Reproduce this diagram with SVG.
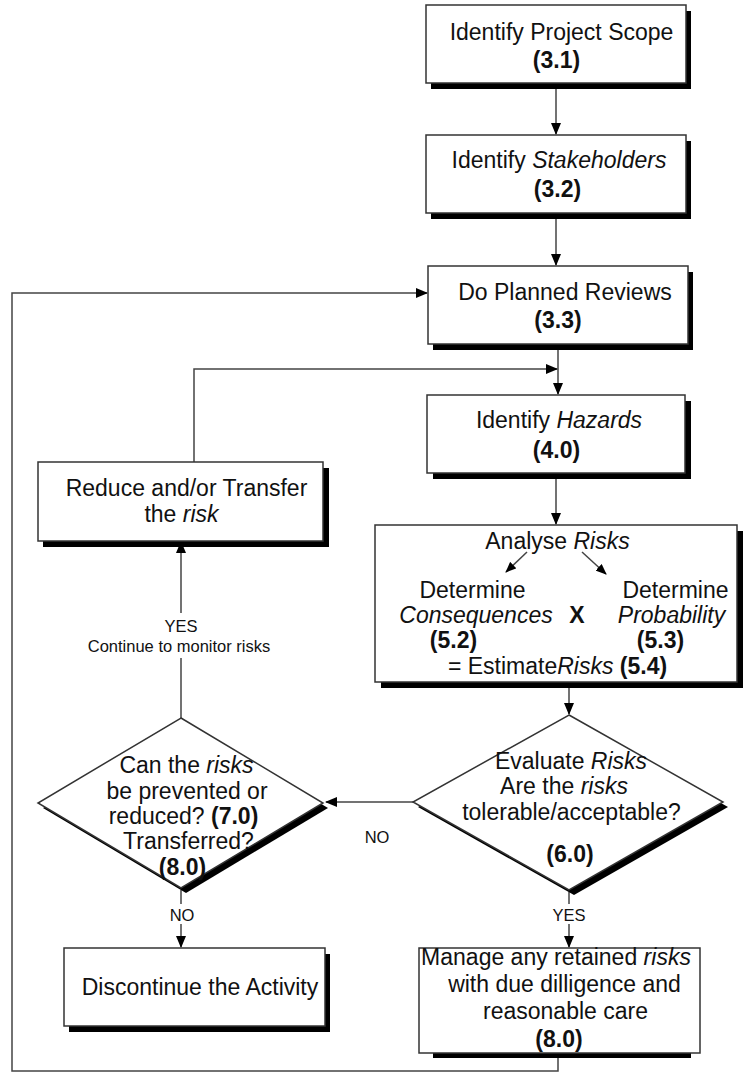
<svg xmlns="http://www.w3.org/2000/svg" width="743" height="1078" viewBox="0 0 743 1078">
  <style>
    .box { fill: #fff; stroke: #333; stroke-width: 1.5; }
    .shadow { fill: #000; }
    .line { fill: none; stroke: #444; stroke-width: 1.5; }
    .t { font-family: "Liberation Sans", Arial, sans-serif; font-size: 23px; fill: #111; }
    .s { font-family: "Liberation Sans", Arial, sans-serif; font-size: 16.5px; fill: #111; }
    .b { font-weight: bold; }
    .i { font-style: italic; }
  </style>
  <defs>
    <marker id="arrow" markerWidth="12" markerHeight="10" refX="11" refY="5" orient="auto" markerUnits="userSpaceOnUse">
      <path d="M0,0 L12,5 L0,10 Z" fill="#000"/>
    </marker>
    <marker id="arrowSmall" markerWidth="11" markerHeight="9" refX="10" refY="4.5" orient="auto" markerUnits="userSpaceOnUse">
      <path d="M0,0 L11,4.5 L0,9 Z" fill="#000"/>
    </marker>
  </defs>

  <!-- connectors -->
  <g id="connectors">
    <line class="line" x1="556" y1="83" x2="556" y2="134" marker-end="url(#arrow)"/>
    <line class="line" x1="556" y1="213" x2="556" y2="265" marker-end="url(#arrow)"/>
    <line class="line" x1="558" y1="344" x2="558" y2="394" marker-end="url(#arrow)"/>
    <polyline class="line" points="194,462 194,369 557,369" marker-end="url(#arrow)"/>
    <line class="line" x1="556" y1="473" x2="556" y2="524" marker-end="url(#arrow)"/>
    <line class="line" x1="569" y1="682" x2="569" y2="714" marker-end="url(#arrow)"/>
    <line class="line" x1="413" y1="802" x2="326" y2="802" marker-end="url(#arrow)"/>
    <line class="line" x1="569" y1="892" x2="569" y2="904"/>
    <line class="line" x1="569" y1="924" x2="569" y2="947" marker-end="url(#arrow)"/>
    <line class="line" x1="181" y1="890" x2="181" y2="904"/>
    <line class="line" x1="181" y1="924" x2="181" y2="947" marker-end="url(#arrow)"/>
    <line class="line" x1="181" y1="718" x2="181" y2="658"/>
    <line class="line" x1="181" y1="613" x2="181" y2="542" marker-end="url(#arrow)"/>
    <polyline class="line" points="558,1053 558,1071 12,1071 12,293 427,293" marker-end="url(#arrow)"/>
    <text class="s" x="377" y="843" text-anchor="middle">NO</text>
    <text class="s" x="569" y="921" text-anchor="middle">YES</text>
    <text class="s" x="182" y="921" text-anchor="middle">NO</text>
    <text class="s" x="181" y="632" text-anchor="middle">YES</text>
    <text class="s" x="179" y="652" text-anchor="middle">Continue to monitor risks</text>
  </g>

  <!-- 3.1 -->
  <g id="identify-scope">
    <rect class="shadow" x="431" y="11" width="260" height="78"/>
    <rect class="box" x="426" y="5" width="260" height="78"/>
    <text class="t" x="561.5" y="40" text-anchor="middle">Identify Project Scope</text>
    <text class="t b" x="556.5" y="68" text-anchor="middle">(3.1)</text>
  </g>

  <!-- 3.2 -->
  <g id="identify-stakeholders">
    <rect class="shadow" x="431" y="141" width="260" height="78"/>
    <rect class="box" x="426" y="135" width="260" height="78"/>
    <text class="t" x="559" y="168" text-anchor="middle">Identify <tspan class="i">Stakeholders</tspan></text>
    <text class="t b" x="557.5" y="197" text-anchor="middle">(3.2)</text>
  </g>

  <!-- 3.3 -->
  <g id="planned-reviews">
    <rect class="shadow" x="433" y="272" width="260" height="78"/>
    <rect class="box" x="428" y="266" width="260" height="78"/>
    <text class="t" x="565" y="300" text-anchor="middle">Do Planned Reviews</text>
    <text class="t b" x="558" y="328" text-anchor="middle">(3.3)</text>
  </g>

  <!-- 4.0 -->
  <g id="identify-hazards">
    <rect class="shadow" x="433" y="401" width="258" height="78"/>
    <rect class="box" x="427" y="395" width="258" height="78"/>
    <text class="t" x="559" y="428" text-anchor="middle">Identify <tspan class="i">Hazards</tspan></text>
    <text class="t b" x="556.5" y="458" text-anchor="middle">(4.0)</text>
  </g>

  <!-- 5.x analyse risks -->
  <g id="analyse-risks">
    <rect class="shadow" x="381" y="531" width="362" height="157"/>
    <rect class="box" x="375" y="525" width="362" height="157"/>
    <text class="t" x="557.5" y="549" text-anchor="middle">Analyse <tspan class="i">Risks</tspan></text>
    <line class="line" x1="527" y1="552" x2="506" y2="572" marker-end="url(#arrowSmall)"/>
    <line class="line" x1="582" y1="552" x2="606" y2="574" marker-end="url(#arrowSmall)"/>
    <text class="t" x="472.5" y="598" text-anchor="middle">Determine</text>
    <text class="t i" x="476" y="623" text-anchor="middle">Consequences</text>
    <text class="t b" x="577" y="623" text-anchor="middle">X</text>
    <text class="t b" x="453.5" y="648" text-anchor="middle">(5.2)</text>
    <text class="t" x="675.5" y="598" text-anchor="middle">Determine</text>
    <text class="t i" x="671.5" y="623" text-anchor="middle">Probability</text>
    <text class="t b" x="660.5" y="648" text-anchor="middle">(5.3)</text>
    <text class="t" x="557.5" y="674" text-anchor="middle">= Estimate<tspan class="i">Risks</tspan> <tspan class="b">(5.4)</tspan></text>
  </g>

  <!-- 6.0 evaluate -->
  <g id="evaluate-risks">
    <polygon class="shadow" points="574,720 728,807 574,895 418,807"/>
    <polygon class="box" points="569,715 723,802 569,890 413,802"/>
    <text class="t" x="571" y="769" text-anchor="middle">Evaluate <tspan class="i">Risks</tspan></text>
    <text class="t" x="564" y="794" text-anchor="middle">Are the  <tspan class="i">risks</tspan></text>
    <text class="t" x="571.5" y="820" text-anchor="middle">tolerable/acceptable?</text>
    <text class="t b" x="570" y="862" text-anchor="middle">(6.0)</text>
  </g>

  <!-- 7.0 / 8.0 prevent or transfer -->
  <g id="prevent-transfer">
    <polygon class="shadow" points="186,723 328,808 186,893 43,808"/>
    <polygon class="box" points="181,718 323,803 181,888 38,803"/>
    <text class="t" x="186.5" y="773" text-anchor="middle">Can the <tspan class="i">risks</tspan></text>
    <text class="t" x="187" y="799" text-anchor="middle">be prevented or</text>
    <text class="t" x="183.5" y="824" text-anchor="middle">reduced? <tspan class="b">(7.0)</tspan></text>
    <text class="t" x="188.5" y="849" text-anchor="middle">Transferred?</text>
    <text class="t b" x="182.5" y="875" text-anchor="middle">(8.0)</text>
  </g>

  <!-- reduce / transfer -->
  <g id="reduce-transfer">
    <rect class="shadow" x="43" y="468" width="286" height="79"/>
    <rect class="box" x="38" y="462" width="285" height="79"/>
    <text class="t" x="186.5" y="496" text-anchor="middle">Reduce and/or Transfer</text>
    <text class="t" x="181.5" y="522" text-anchor="middle">the <tspan class="i">risk</tspan></text>
  </g>

  <!-- discontinue -->
  <g id="discontinue">
    <rect class="shadow" x="69" y="954" width="261" height="78"/>
    <rect class="box" x="64" y="948" width="261" height="78"/>
    <text class="t" x="200" y="995" text-anchor="middle">Discontinue the Activity</text>
  </g>

  <!-- manage retained risks -->
  <g id="manage-risks">
    <rect class="shadow" x="433" y="1050" width="258" height="8"/>
    <rect class="box" x="419" y="948" width="281" height="105"/>
    <text class="t" x="556" y="965" text-anchor="middle">Manage any retained <tspan class="i">risks</tspan></text>
    <text class="t" x="564.5" y="992" text-anchor="middle">with due dilligence and</text>
    <text class="t" x="565.5" y="1019" text-anchor="middle">reasonable care</text>
    <text class="t b" x="559" y="1047" text-anchor="middle">(8.0)</text>
  </g>
</svg>
